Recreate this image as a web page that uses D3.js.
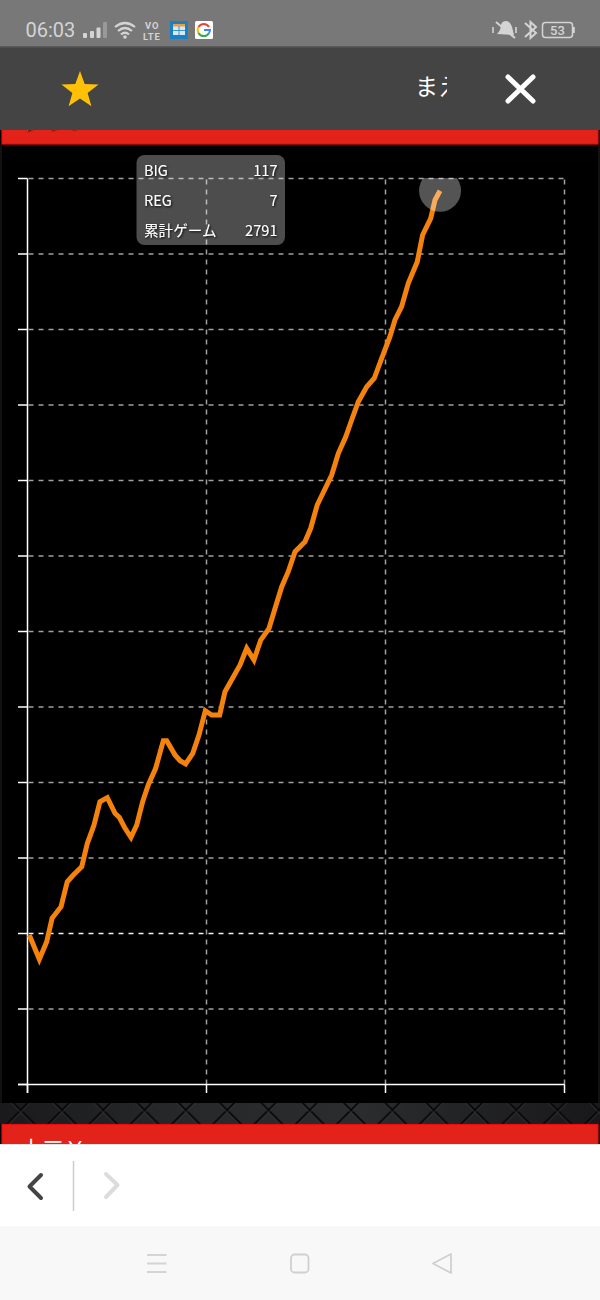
<!DOCTYPE html>
<html><head><meta charset="utf-8">
<script src="https://cdn.jsdelivr.net/npm/d3@7"></script>
<style>html,body{margin:0;padding:0;background:#000}svg{display:block}text{font-family:"Noto Sans CJK JP","Noto Sans",sans-serif}</style>
</head><body><div id="c"></div>
<script>
const games=[12,80,130,166,227,269,310,367,405,450,490,540,592,621,660,700,739,779,817,867,919,942,998,1032,1070,1118,1160,1203,1246,1300,1336,1438,1483,1532,1578,1634,1675,1720,1764,1810,1877,1916,1960,2058,2103,2153,2193,2238,2295,2346,2396,2452,2486,2531,2576,2637,2673,2728,2757,2791];
const balance=[-20,-342,-109,201,355,686,775,885,1195,1437,1746,1799,1592,1539,1393,1274,1437,1746,1967,2188,2554,2554,2365,2289,2245,2387,2629,2951,2894,2894,3203,3556,3777,3623,3887,4042,4307,4593,4792,5057,5189,5367,5675,6073,6360,6580,6801,7044,7242,7354,7618,7905,8126,8302,8612,8898,9252,9473,9715,9838];
const yTicks=[-2000,-1000,0,1000,2000,3000,4000,5000,6000,7000,8000,9000,10000];
const xTicks=[0,1211,2422,3633];
const tipLabels=["BIG","REG","累計ゲーム"];
const tipValues=["117","7","2791"];

const svg=d3.select("#c").append("svg").attr("width",600).attr("height",1300);
const defs=svg.append("defs");
const x=d3.scaleLinear().domain([0,3633]).range([27.5,564.5]);
const y=d3.scaleLinear().domain([-2000,10000]).range([1084.5,178.5]);
defs.append("filter").attr("id","ts").append("feDropShadow").attr("dx",1).attr("dy",1).attr("stdDeviation",.8).attr("flood-color","#000").attr("flood-opacity",.9);

// page background
svg.append("rect").attr("width",600).attr("height",1300).attr("fill","#000");
svg.append("rect").attr("x",0).attr("y",145).attr("width",2).attr("height",958).attr("fill","#111");
svg.append("rect").attr("x",598).attr("y",145).attr("width",2).attr("height",958).attr("fill","#111");

// textured band
const bg=defs.append("linearGradient").attr("id","bandG");
[["0","#1a1a1c"],[".3","#27282a"],[".6","#2b2c2e"],["1","#18181a"]].forEach(d=>bg.append("stop").attr("offset",d[0]).attr("stop-color",d[1]));
const pat=defs.append("pattern").attr("id","dia").attr("patternUnits","userSpaceOnUse").attr("width",41.3).attr("height",41.3).attr("x",0).attr("y",1089.35);
pat.append("path").attr("d","M0 0L41.3 41.3M41.3 0L0 41.3").attr("stroke","#08080a").attr("stroke-width",1.8).attr("fill","none");
pat.append("path").attr("d","M0 2.5L38.8 41.3M41.3 2.5L2.5 41.3").attr("stroke","#333335").attr("stroke-width",.8).attr("fill","none");
svg.append("rect").attr("x",0).attr("y",1103).attr("width",600).attr("height",21).attr("fill","url(#bandG)");
svg.append("rect").attr("x",0).attr("y",1103).attr("width",600).attr("height",21).attr("fill","url(#dia)");

// red heading bars with their scrolled-off titles
svg.append("rect").attr("x",2).attr("y",120).attr("width",596).attr("height",24).attr("fill","#e32319").attr("stroke","#ee0a0a").attr("stroke-width",1.2);
svg.append("text").attr("x",22).attr("y",128).attr("font-size",22).attr("fill","#fff").attr("filter","url(#ts)").text("グラフ");
svg.append("rect").attr("x",2).attr("y",1124.5).attr("width",596).attr("height",30).attr("fill","#e32319").attr("stroke","#ee0a0a").attr("stroke-width",1.2);
svg.append("text").attr("x",20).attr("y",1157).attr("font-size",22).attr("fill","#fff").text("小三Ｙ");

// grid + axes
const gridColor="#a0a0a0";
const ga=svg.append("g").attr("transform","translate(27.5,0)").call(d3.axisLeft(y).offset(0).tickValues(yTicks).tickSize(0).tickFormat(""));
ga.select(".domain").remove();
ga.selectAll(".tick").each(function(d){
  const t=d3.select(this);
  if(d!==-2000) t.append("line").attr("x1",0).attr("x2",537).attr("stroke",d===0?"#f0f0f0":gridColor).attr("stroke-width",1.5).attr("stroke-dasharray","5,5").attr("stroke-dashoffset",-1);
  t.append("line").attr("x1",-9.5).attr("x2",0).attr("stroke","#fff").attr("stroke-width",1.5);
});
const gb=svg.append("g").attr("transform","translate(0,1084.5)").call(d3.axisBottom(x).offset(0).tickValues(xTicks).tickSize(0).tickFormat(""));
gb.select(".domain").remove();
gb.selectAll(".tick").each(function(d){
  const t=d3.select(this);
  if(d!==0) t.append("line").attr("y1",0).attr("y2",-906).attr("stroke",gridColor).attr("stroke-width",1.5).attr("stroke-dasharray","5,5");
  t.append("line").attr("y1",0).attr("y2",8.5).attr("stroke","#fff").attr("stroke-width",1.5);
});
svg.append("line").attr("x1",27.5).attr("x2",27.5).attr("y1",178.5).attr("y2",1093).attr("stroke","#fff").attr("stroke-width",1.5);
svg.append("line").attr("x1",18).attr("x2",564.5).attr("y1",1084.5).attr("y2",1084.5).attr("stroke","#fff").attr("stroke-width",1.5);

// series
const pts=games.map((g,i)=>[g,balance[i]]);
svg.append("path").datum(pts).attr("fill","none").attr("stroke","#f5820d").attr("stroke-width",5).attr("stroke-linejoin","miter")
  .attr("d",d3.line().x(d=>x(d[0])).y(d=>y(d[1])));

// hover halo
defs.append("clipPath").attr("id","plot").append("rect").attr("x",27.5).attr("y",178).attr("width",537).attr("height",906);
const last=pts[pts.length-1];
svg.append("circle").attr("clip-path","url(#plot)").attr("cx",x(last[0])).attr("cy",y(last[1])).attr("r",21).attr("fill","#fff").attr("fill-opacity",.33);

// tooltip
const tip=svg.append("g");
tip.append("rect").attr("x",136.5).attr("y",155).attr("width",148.5).attr("height",90).attr("rx",8).attr("fill","#fff").attr("fill-opacity",.3);
const rowY=d3.scalePoint().domain(d3.range(3)).range([175.5,235.5]);
tipLabels.forEach((l,i)=>{
  tip.append("text").attr("x",144).attr("y",rowY(i)).attr("font-size",14.6).attr("fill","#fff").attr("filter","url(#ts)").text(l);
  tip.append("text").attr("x",277.5).attr("y",rowY(i)).attr("text-anchor","end").attr("font-size",14.6).attr("fill","#fff").attr("filter","url(#ts)").text(tipValues[i]);
});

// app header
svg.append("rect").attr("y",47).attr("width",600).attr("height",83).attr("fill","#444");
svg.append("rect").attr("width",600).attr("height",47).attr("fill","#787878");
svg.append("rect").attr("y",46).attr("width",600).attr("height",1.5).attr("fill","#5a5a5a");

const star=d3.range(10).map(i=>{const r=i%2?8:19.5,a=i*Math.PI/5;return [80+r*Math.sin(a),90.5-r*Math.cos(a)];});
svg.append("polygon").attr("points",star.join(" ")).attr("fill","#ffc107");
defs.append("clipPath").attr("id","ttl").append("rect").attr("x",400).attr("y",60).attr("width",47).attr("height",50);
svg.append("text").attr("clip-path","url(#ttl)").attr("x",415).attr("y",95).attr("font-size",23).attr("fill","#fff").text("まえ");
svg.append("path").attr("d","M508 77L533 101M533 77L508 101").attr("stroke","#fff").attr("stroke-width",5).attr("stroke-linecap","round");

// status bar
const sc="#d4d4d4";
svg.append("text").attr("x",25.5).attr("y",37).attr("font-size",20).attr("fill",sc).style("font-family","Roboto").text("06:03");
[[83,33,4,5,sc],[90,31,4,7,sc],[96.5,27.5,4,10.5,sc],[103,22,4,16,"#999"]].forEach(d=>svg.append("rect").attr("x",d[0]).attr("y",d[1]).attr("width",d[2]).attr("height",d[3]).attr("rx",1).attr("fill",d[4]));
svg.append("path").attr("d","M115 27Q125 19 135 27M118 31Q125 25 132 31M121 34.5Q125 31 129 34.5").attr("stroke",sc).attr("stroke-width",2.2).attr("fill","none");
svg.append("circle").attr("cx",125).attr("cy",37).attr("r",1.8).attr("fill",sc);
svg.append("text").attr("x",145).attr("y",29).attr("font-size",9.4).attr("font-weight",700).attr("letter-spacing",1).attr("fill",sc).style("font-family","Roboto").text("VO");
svg.append("text").attr("x",143).attr("y",39.5).attr("font-size",9.4).attr("font-weight",700).attr("letter-spacing",.8).attr("fill",sc).style("font-family","Roboto").text("LTE");
svg.append("rect").attr("x",170).attr("y",21).attr("width",18).attr("height",18).attr("fill","#1b7fc4");
svg.append("rect").attr("x",173).attr("y",25).attr("width",12).attr("height",10).attr("fill","#d8e8f0");
svg.append("rect").attr("x",173).attr("y",24).attr("width",12).attr("height",2.5).attr("fill","#e8a040");
svg.append("path").attr("d","M179 26V35M173 30.5H185").attr("stroke","#1b7fc4").attr("stroke-width",.8);
svg.append("rect").attr("x",195).attr("y",21).attr("width",18).attr("height",18).attr("rx",1.5).attr("fill","#fff");
svg.append("path").attr("d","M209 27A6 6 0 0 0 198.5 27").attr("stroke","#ea4335").attr("stroke-width",2).attr("fill","none");
svg.append("path").attr("d","M198.5 27A6 6 0 0 0 198.5 33").attr("stroke","#fbbc05").attr("stroke-width",2).attr("fill","none");
svg.append("path").attr("d","M198.5 33A6 6 0 0 0 209 33").attr("stroke","#34a853").attr("stroke-width",2).attr("fill","none");
svg.append("path").attr("d","M204 30H210A6 6 0 0 1 209 33").attr("stroke","#4285f4").attr("stroke-width",2).attr("fill","none");
// bell, bluetooth, battery
svg.append("path").attr("d","M497 34Q501 30 501 25Q502 21 506 21Q510 21 512 27L514 35Z").attr("fill",sc);
svg.append("path").attr("d","M496 22L515 38").attr("stroke",sc).attr("stroke-width",2);
svg.append("path").attr("d","M493 27V33M516 27V33").attr("stroke",sc).attr("stroke-width",1.6);
svg.append("path").attr("d","M525 23L536 33L530.5 38V22L536 27L525 37").attr("stroke",sc).attr("stroke-width",2).attr("fill","none");
svg.append("rect").attr("x",542.5).attr("y",22.5).attr("width",30).attr("height",15).attr("rx",3).attr("fill","none").attr("stroke",sc).attr("stroke-width",1.5);
svg.append("rect").attr("x",573).attr("y",27).attr("width",1.8).attr("height",6).attr("fill",sc);
svg.append("text").attr("x",557.5).attr("y",35).attr("text-anchor","middle").attr("font-size",13).attr("font-weight",500).attr("fill",sc).style("font-family","Roboto").text("53");

// browser toolbar and navigation
svg.append("rect").attr("y",1144).attr("width",600).attr("height",82).attr("fill","#fff");
svg.append("rect").attr("y",1144).attr("width",600).attr("height",1).attr("fill","#dfe5e7");
svg.append("rect").attr("y",1226).attr("width",600).attr("height",74).attr("fill","#f8f8f8");
svg.append("path").attr("d","M41 1175L29.5 1186.5L41 1198").attr("stroke","#444").attr("stroke-width",4).attr("stroke-linecap","round").attr("stroke-linejoin","round").attr("fill","none");
svg.append("line").attr("x1",73.5).attr("x2",73.5).attr("y1",1161).attr("y2",1211).attr("stroke","#ccc").attr("stroke-width",1.5);
svg.append("path").attr("d","M106 1174L117.5 1185L106 1197").attr("stroke","#dcdcdc").attr("stroke-width",4).attr("stroke-linecap","round").attr("stroke-linejoin","round").attr("fill","none");
svg.append("path").attr("d","M147 1255H166.5M147 1263.5H166.5M147 1272H166.5").attr("stroke","#d4d4d4").attr("stroke-width",1.8);
svg.append("rect").attr("x",291).attr("y",1254.5).attr("width",17.5).attr("height",18).attr("rx",3.5).attr("fill","none").attr("stroke","#d0d0d0").attr("stroke-width",1.8);
svg.append("path").attr("d","M451 1254L433 1263.5L451 1273Z").attr("stroke","#d0d0d0").attr("stroke-width",1.8).attr("stroke-linejoin","round").attr("fill","none");
</script></body></html>
